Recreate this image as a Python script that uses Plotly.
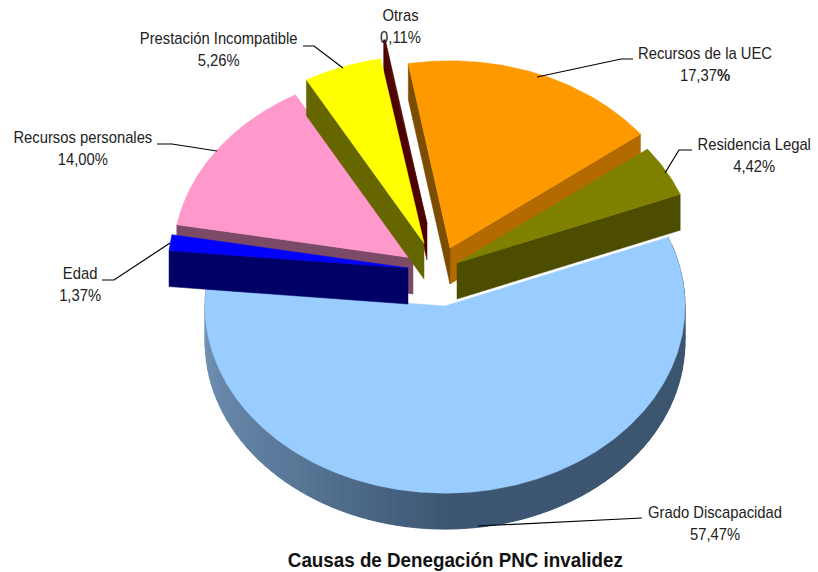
import numpy as np
import plotly.graph_objects as go

# Values as printed on the chart, clockwise from the top
categories = ["Recursos de la UEC", "Residencia Legal", "Grado Discapacidad", "Edad",
              "Recursos personales", "Prestación Incompatible", "Otras"]
values = [17.37, 4.42, 57.47, 1.37, 14.00, 5.26, 0.11]

# -------------------------
# Pie geometry (page pixels)
# -------------------------
START_ANGLE = -10.0
RADIUS = 240.0
TILT = 0.78
DEPTH = 36.0

# tip of every exploded slice
tips = {
    "Recursos de la UEC": (450, 248),
    "Residencia Legal": (457, 263),
    "Grado Discapacidad": (445, 306),
    "Edad": (408, 268),
    "Recursos personales": (413, 258),
    "Prestación Incompatible": (424, 243),
    "Otras": (427, 224),
}
top_colors = {
    "Recursos de la UEC": "#ff9900",
    "Residencia Legal": "#808000",
    "Grado Discapacidad": "#99ccff",
    "Edad": "#0000ff",
    "Recursos personales": "#ff99cc",
    "Prestación Incompatible": "#ffff00",
    "Otras": "#4d0000",
}
# which cut faces show: (edge, colour), edge 0 = first edge clockwise, 1 = last
faces = {
    "Recursos de la UEC": [(1, "#b36b00"), (0, "#7a4d00")],
    "Residencia Legal": [(1, "#4d4d00")],
    "Grado Discapacidad": [],
    "Edad": [(0, "#000066")],
    "Recursos personales": [(0, "#7a4a66")],
    "Prestación Incompatible": [(0, "#666600")],
    "Otras": [(0, "#4d0000")],
}
# back to front
draw_order = ["Grado Discapacidad", "Recursos de la UEC", "Residencia Legal", "Recursos personales",
              "Otras", "Prestación Incompatible", "Edad"]

# rim shading of the big slice: angle -> colour
rim_angles = [68, 110, 180, 215, 250, 276]
rim_colors = [(61, 86, 112), (61, 86, 112), (62, 88, 116), (88, 118, 150), (105, 137, 172), (125, 155, 190)]

# label anchor and leader line for each slice
label_pos = {
    "Recursos de la UEC": (705, 64),
    "Residencia Legal": (754, 155),
    "Grado Discapacidad": (715, 523),
    "Edad": (80, 284),
    "Recursos personales": (83, 148),
    "Prestación Incompatible": (218, 49),
    "Otras": (400, 26),
}
leaders = {
    "Recursos de la UEC": [(633, 59), (621, 59), (537, 77)],
    "Residencia Legal": [(692, 150), (679, 150), (665, 173)],
    "Grado Discapacidad": [(642, 518), (478, 526)],
    "Edad": [(102, 280), (114, 280), (170, 243)],
    "Recursos personales": [(157, 144), (172, 144), (217, 151)],
    "Prestación Incompatible": [(303, 46), (314, 46), (343, 68)],
}


def ring(tip, angles, depth=0.0):
    rad = np.radians(angles)
    return tip[0] + RADIUS * np.sin(rad), tip[1] - RADIUS * TILT * np.cos(rad) + depth


def poly(fig, xs, ys, color):
    fig.add_trace(go.Scatter(
        x=list(xs), y=list(ys), mode="lines", fill="toself", fillcolor=color,
        line=dict(color=color, width=0.5), hoverinfo="skip", showlegend=False
    ))


# Slice angles come straight from the values
edges = START_ANGLE + np.cumsum([0] + values) * 3.6
spans = {c: (edges[i], edges[i + 1]) for i, c in enumerate(categories)}

fig = go.Figure()

# Shaded rim of the big slice, each band overlaps the next so no seams show
a1, a2 = spans["Grado Discapacidad"]
rim = np.linspace(a1, a2, 90)
tip = tips["Grado Discapacidad"]
for i in range(len(rim) - 1):
    a, b = rim[i], rim[min(i + 2, len(rim) - 1)]
    rgb = [int(np.interp(rim[i], rim_angles, [c[k] for c in rim_colors])) for k in range(3)]
    seg = np.array([a, (a + b) / 2, b])
    x_top, y_top = ring(tip, seg)
    x_low, y_low = ring(tip, seg[::-1], DEPTH)
    poly(fig, np.r_[x_top, x_low, x_top[0]], np.r_[y_top, y_low, y_top[0]], f"rgb({rgb[0]},{rgb[1]},{rgb[2]})")

# Slices
for name in draw_order:
    tip = tips[name]
    a1, a2 = spans[name]
    for edge, color in faces[name]:
        ex, ey = ring(tip, np.array([a1, a2][edge]))
        poly(fig, [tip[0], ex, ex, tip[0], tip[0]],
             [tip[1], ey, ey + DEPTH, tip[1] + DEPTH, tip[1]], color)
    arc = np.linspace(a1, a2, max(4, int((a2 - a1) * 2)))
    ax, ay = ring(tip, arc)
    poly(fig, np.r_[tip[0], ax, tip[0]], np.r_[tip[1], ay, tip[1]], top_colors[name])

# Leader lines
for name, pts in leaders.items():
    fig.add_trace(go.Scatter(
        x=[p[0] for p in pts], y=[p[1] for p in pts], mode="lines",
        line=dict(color="#000000", width=1.2), hoverinfo="skip", showlegend=False
    ))

# Labels
for name, val in zip(categories, values):
    pct = f"{val:.2f}".replace(".", ",")
    mark = "<b>%</b>" if name == "Recursos de la UEC" else "%"
    fig.add_annotation(
        x=label_pos[name][0], y=label_pos[name][1], text=f"{name}<br>{pct}{mark}",
        showarrow=False, align="center", xanchor="center", yanchor="middle",
        font=dict(family="Liberation Sans", size=17, color="#222222")
    )

fig.add_annotation(
    x=455, y=560, text="<b>Causas de Denegación PNC invalidez</b>", showarrow=False,
    font=dict(family="Liberation Sans", size=20, color="#111111")
)

fig.update_layout(
    width=818, height=572, margin=dict(l=0, r=0, t=0, b=0),
    paper_bgcolor="white", plot_bgcolor="white", showlegend=False,
    xaxis=dict(range=[0, 818], visible=False, fixedrange=True),
    yaxis=dict(range=[572, 0], visible=False, fixedrange=True),
)

# no narrow sans is installed, so squeeze the text sideways around its own centre
squeeze = """
document.body.style.margin = '0';
document.querySelectorAll('.annotation-text-g text').forEach(function (t) {
    var box = t.getBBox(), cx = box.x + box.width / 2;
    var k = t.textContent.indexOf('Causas') === 0 ? 0.94 : 0.87;
    var old = t.getAttribute('transform') || '';
    t.setAttribute('transform', old + ' translate(' + cx + ',0) scale(' + k + ',1) translate(' + (-cx) + ',0)');
});
"""
fig.write_html("out.html", post_script=squeeze, config=dict(displayModeBar=False))
